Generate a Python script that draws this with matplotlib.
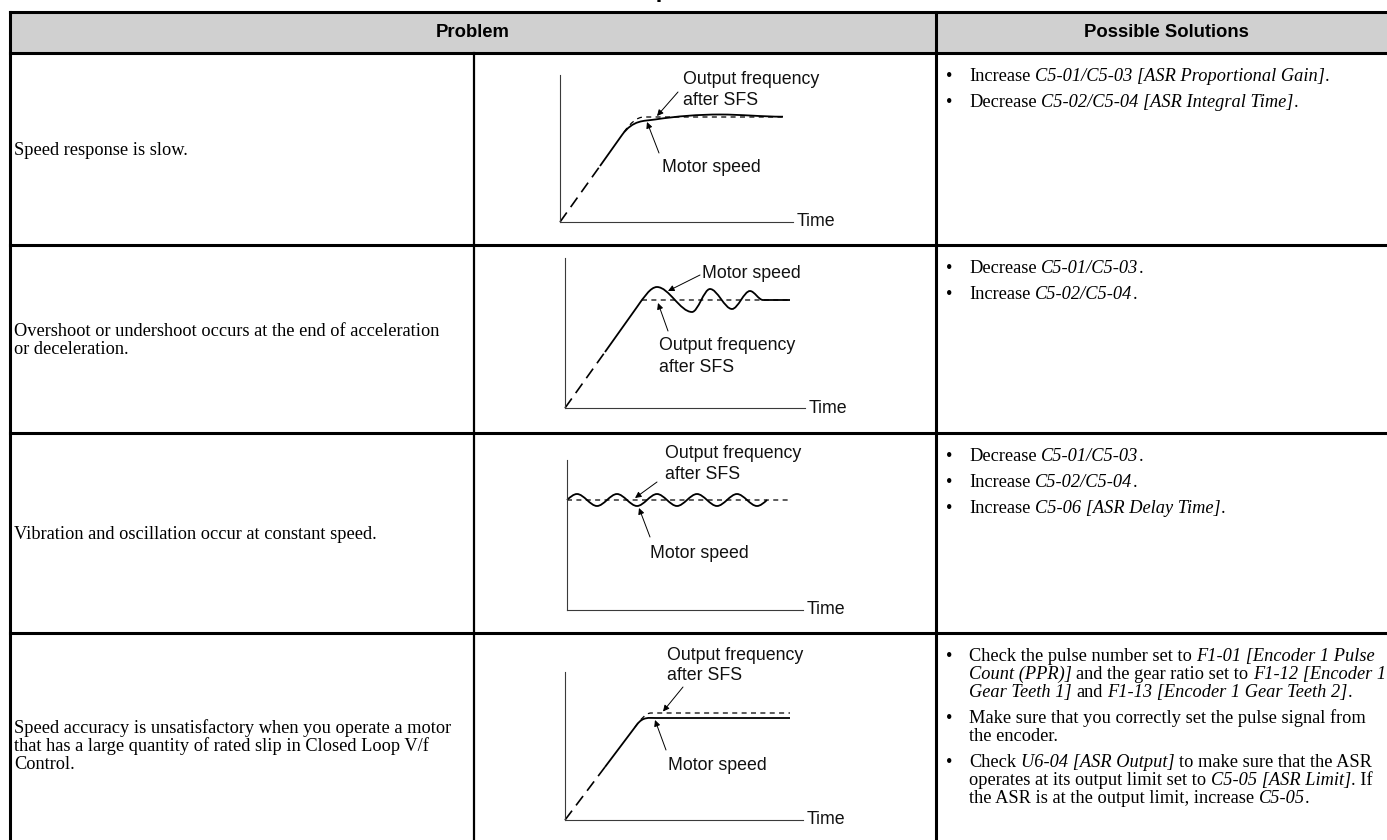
import matplotlib
matplotlib.use('Agg')
import matplotlib.pyplot as plt
from matplotlib.path import Path
from matplotlib.patches import PathPatch, Rectangle

# table content
title = "Table 11.30 ASR Response and Possible Solutions"
headers = ["Problem", "Possible Solutions"]
problems = [
    ["Speed response is slow."],
    ["Overshoot or undershoot occurs at the end of acceleration", "or deceleration."],
    ["Vibration and oscillation occur at constant speed."],
    ["Speed accuracy is unsatisfactory when you operate a motor",
     "that has a large quantity of rated slip in Closed Loop V/f", "Control."],
]
# *...* = italic
solutions = [
    [["Increase *C5-01/C5-03 [ASR Proportional Gain]*."],
     ["Decrease *C5-02/C5-04 [ASR Integral Time]*."]],
    [["Decrease *C5-01/C5-03*."], ["Increase *C5-02/C5-04*."]],
    [["Decrease *C5-01/C5-03*."], ["Increase *C5-02/C5-04*."],
     ["Increase *C5-06 [ASR Delay Time]*."]],
    [["Check the pulse number set to *F1-01 [Encoder 1 Pulse*",
      "*Count (PPR)]* and the gear ratio set to *F1-12 [Encoder 1*",
      "*Gear Teeth 1]* and *F1-13 [Encoder 1 Gear Teeth 2]*."],
     ["Make sure that you correctly set the pulse signal from", "the encoder."],
     ["Check *U6-04 [ASR Output]* to make sure that the ASR",
      "operates at its output limit set to *C5-05 [ASR Limit]*. If",
      "the ASR is at the output limit, increase *C5-05*."]],
]

# diagram curves: (time, speed, slope) nodes, joined by smooth curves
d1_ramp = [(0, 0), (40, 56)]
d1_motor = [(40, 56, 1.4), (62, 87, 1.4), (95, 102.5, 0.15), (160, 107.5, 0), (223, 105.3, 0)]
d1_output = [(64, 90, 1.4), (84, 105, 0), (223, 105, 0)]

d2_ramp = [(0, 0), (40, 56)]
d2_motor = [(40, 56, 1.4), (72, 101, 1.4), (92, 121, 0), (127, 96, 0), (145, 119, 0),
            (167, 99, 0), (185, 117, 0), (198, 108, 0), (225, 108, 0)]
d2_output = [(77, 108, 0), (225, 108, 0)]

d3_ramp = []
d3_motor = [(0, 110, 0.9), (10, 116, 0), (30, 104, 0), (50, 116, 0), (70, 104, 0), (90, 116, 0),
            (110, 104, 0), (130, 116, 0), (150, 104, 0), (170, 116, 0), (190, 104, 0), (200, 110, 0.9)]
d3_output = [(0, 110, 0), (223, 110, 0)]

d4_ramp = [(0, 0), (40, 53)]
d4_motor = [(40, 53, 1.33), (72, 95.5, 1.33), (90, 102, 0), (225, 102, 0)]
d4_output = [(70, 93, 1.33), (86, 107, 0), (225, 107, 0)]

# labels: lines, left x, first line y, arrow tail, arrow head
d1_labels = [(["Output frequency", "after SFS"], 123, 142, (118, 130), (97, 106)),
             (["Motor speed"], 102, 55, (99, 69), (87, 100))]
d2_labels = [(["Motor speed"], 137, 135, (135, 133), (103, 117)),
             (["Output frequency", "after SFS"], 94, 62, (103, 77), (93, 105))]
d3_labels = [(["Output frequency", "after SFS"], 98, 156, (90, 128), (68, 112)),
             (["Motor speed"], 83, 57, (83, 73), (72, 102))]
d4_labels = [(["Output frequency", "after SFS"], 102, 165, (118, 133), (98, 108.5)),
             (["Motor speed"], 103, 55, (101, 70), (90, 100))]

W, H = 1387, 840
col_x = [9.5, 474, 936, 1396]
row_y = [12, 53, 245, 433, 633, 858]

SERIF = 'Liberation Serif'
SANS = 'Liberation Sans'
fs_body = 13.2
fs_diag = 12.8

fig = plt.figure(figsize=(W / 100, H / 100), dpi=100)
tab = fig.add_axes([0, 0, 1, 1])
tab.set_xlim(0, W)
tab.set_ylim(H, 0)
tab.axis('off')
renderer = fig.canvas.get_renderer()

# title sits above the crop, only its lowest pixels show
tab.text(709, -3.5, title, family=SANS, weight='bold', fontsize=17, ha='center', va='baseline')

# header + grid
tab.add_patch(Rectangle((col_x[0], row_y[0]), col_x[3] - col_x[0], row_y[1] - row_y[0],
                        facecolor='#d0d0d0', edgecolor='none'))
for y in row_y:
    tab.plot([col_x[0], col_x[3]], [y, y], color='black', lw=2.2, solid_capstyle='projecting')
for x in [col_x[0], col_x[2], col_x[3]]:
    tab.plot([x, x], [row_y[0], row_y[-1]], color='black', lw=2.2)
tab.plot([col_x[1], col_x[1]], [row_y[1], row_y[-1]], color='black', lw=1.6)

tab.text((col_x[0] + col_x[2]) / 2, 32.5, headers[0], family=SANS, weight='bold',
         fontsize=13.3, ha='center', va='center')
tab.text((col_x[2] + col_x[3]) / 2, 32.5, headers[1], family=SANS, weight='bold',
         fontsize=13.3, ha='center', va='center')

pitch = 18
row_mid = [149, 339, 533, 745]
for lines, mid in zip(problems, row_mid):
    y0 = mid - (len(lines) - 1) * pitch / 2
    for i, line in enumerate(lines):
        tab.text(14, y0 + i * pitch + 6, line, family=SERIF, fontsize=fs_body, va='baseline')


def advance(s, style):
    a = tab.text(0, 0, '|' + s + '|', family=SERIF, fontsize=fs_body, style=style)
    b = tab.text(0, 0, '||', family=SERIF, fontsize=fs_body, style=style)
    w = a.get_window_extent(renderer).width - b.get_window_extent(renderer).width
    a.remove()
    b.remove()
    return w


def rich(x, y, s):
    for i, part in enumerate(s.split('*')):
        if not part:
            continue
        style = 'italic' if i % 2 else 'normal'
        lead = part[:len(part) - len(part.lstrip())]
        x0 = x + (advance(lead, style) if lead else 0)
        if part.strip():
            tab.text(x0, y, part.strip(), family=SERIF, fontsize=fs_body, style=style, va='baseline')
        x += advance(part, style)


for bullets, top in zip(solutions, row_y[1:5]):
    y = top + 28
    for b in bullets:
        tab.text(946, y, u'\u2022', family=SERIF, fontsize=fs_body, va='baseline')
        for line in b:
            rich(969, y, line)
            y += pitch
        y += 8


def smooth(nodes):
    verts = [(nodes[0][0], nodes[0][1])]
    codes = [Path.MOVETO]
    for (x0, y0, s0), (x1, y1, s1) in zip(nodes[:-1], nodes[1:]):
        d = (x1 - x0) / 3
        verts += [(x0 + d, y0 + s0 * d), (x1 - d, y1 - s1 * d), (x1, y1)]
        codes += [Path.CURVE4] * 3
    return Path(verts, codes)


def diagram(box, ramp, motor, output, labels):
    ox, oy, w, h = box
    ax = fig.add_axes([ox / W, (H - oy) / H, w / W, h / H])
    ax.set_xlim(0, w)
    ax.set_ylim(0, h)
    ax.patch.set_alpha(0)
    for s in ['top', 'right']:
        ax.spines[s].set_visible(False)
    for s in ['left', 'bottom']:
        ax.spines[s].set_color('#3a3a3a')
        ax.spines[s].set_linewidth(0.8)
    ax.set_xticks([])
    ax.set_yticks([])
    if ramp:
        ax.plot([p[0] for p in ramp], [p[1] for p in ramp], color='black', lw=1.2,
                linestyle=(0, (7, 4)), clip_on=False)
    ax.add_patch(PathPatch(smooth(output), fill=False, edgecolor='black', lw=0.9,
                           linestyle=(0, (4, 3.5)), clip_on=False))
    ax.add_patch(PathPatch(smooth(motor), fill=False, edgecolor='black', lw=1.3, clip_on=False))
    for lines, lx, ly, tail, head in labels:
        for i, line in enumerate(lines):
            ax.text(lx, ly - 21 * i, line, family=SANS, fontsize=fs_diag, va='center', color='#111111')
        ax.annotate('', xy=head, xytext=tail,
                    arrowprops=dict(arrowstyle='-|>', lw=0.7, color='black', mutation_scale=9,
                                    shrinkA=0, shrinkB=0))
    ax.text(w + 4, 0, 'Time', family=SANS, fontsize=fs_diag, va='center', color='#111111')


diagram((560, 222, 233, 147), d1_ramp, d1_motor, d1_output, d1_labels)
diagram((565, 408, 240, 150), d2_ramp, d2_motor, d2_output, d2_labels)
diagram((567, 610, 236, 150), d3_ramp, d3_motor, d3_output, d3_labels)
diagram((565, 820, 238, 148), d4_ramp, d4_motor, d4_output, d4_labels)

fig.savefig('out.png', dpi=100)
